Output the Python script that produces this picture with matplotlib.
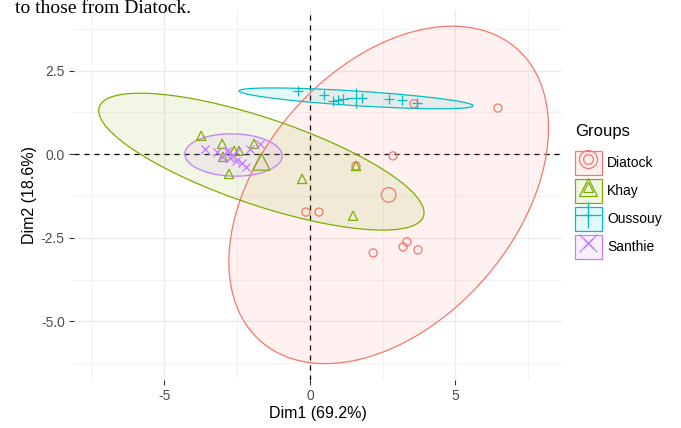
import numpy as np
import matplotlib
matplotlib.use("Agg")
import matplotlib.pyplot as plt
from matplotlib.patches import Polygon, Patch
from matplotlib.lines import Line2D
from matplotlib.legend_handler import HandlerTuple

plt.rcParams['font.family'] = ['Liberation Sans', 'DejaVu Sans']

# Individual coordinates on the first two principal components
groups = ["Diatock", "Khay", "Oussouy", "Santhie"]
colors = ["#F8766D", "#7CAE00", "#00BFC4", "#C77CFF"]
markers = ["o", "^", "+", "x"]

diatock_x = [6.46, 3.57, 2.85, 1.58, -0.14, 0.31, 2.17, 3.20, 3.33, 3.71]
diatock_y = [1.38, 1.51, -0.05, -0.35, -1.73, -1.73, -2.95, -2.77, -2.62, -2.86]

khay_x = [-3.74, -3.02, -2.61, -2.44, -1.92, -2.78, -0.27, 1.58, 1.48, -2.99]
khay_y = [0.55, 0.31, 0.10, 0.10, 0.31, -0.59, -0.74, -0.35, -1.84, -0.08]

oussouy_x = [-0.41, 0.48, 0.79, 0.96, 1.13, 1.79, 2.71, 3.15, 3.66]
oussouy_y = [1.89, 1.77, 1.59, 1.62, 1.65, 1.68, 1.65, 1.63, 1.54]

santhie_x = [-3.62, -3.20, -3.02, -2.85, -2.75, -2.54, -2.34, -2.20, -2.06, -1.72]
santhie_y = [0.15, 0.07, -0.08, 0.10, -0.11, -0.20, -0.26, -0.38, 0.16, 0.31]

xs = [diatock_x, khay_x, oussouy_x, santhie_x]
ys = [diatock_y, khay_y, oussouy_y, santhie_y]

x_ticks = [-5, 0, 5]
y_ticks = [2.5, 0.0, -2.5, -5.0]
x_label = "Dim1 (69.2%)"
y_label = "Dim2 (18.6%)"
legend_title = "Groups"


def norm_ellipse(x, y, level=0.95, segments=101):
    """Normal-theory data ellipse (as in ggplot2 stat_ellipse, type='norm')."""
    pts = np.column_stack([x, y])
    n = len(pts)
    center = pts.mean(axis=0)
    cov = np.cov(pts, rowvar=False)
    d = n - 1
    # quantile of F(2, d), closed form
    fq = d / 2.0 * ((1 - level) ** (-2.0 / d) - 1)
    radius = np.sqrt(2 * fq)
    chol = np.linalg.cholesky(cov).T
    t = np.linspace(0, 2 * np.pi, segments)
    circle = np.column_stack([np.cos(t), np.sin(t)])
    return center + radius * circle @ chol


W, H = 681, 428
fig = plt.figure(figsize=(W / 100, H / 100), dpi=100)
ax = fig.add_axes([74 / W, (H - 380) / H, (562 - 74) / W, (380 - 10) / H])

ax.set_xlim(-8.11, 8.66)
ax.set_ylim(-6.75, 4.31)

# grid (major + minor) in light grey, no panel border
ax.set_xticks(x_ticks)
ax.set_yticks(y_ticks)
ax.set_xticks([-7.5, -2.5, 2.5, 7.5], minor=True)
ax.set_yticks([3.75, 1.25, -1.25, -3.75, -6.25], minor=True)
ax.grid(True, which='major', color='#EBEBEB', linewidth=1.0)
ax.grid(True, which='minor', color='#F2F2F2', linewidth=0.7)
ax.set_axisbelow(True)
for s in ax.spines.values():
    s.set_visible(False)
ax.tick_params(axis='both', which='major', length=3.6, width=0.8, color='#333333',
               labelcolor='#4D4D4D', labelsize=10, pad=3)
ax.tick_params(axis='both', which='minor', length=0)
ax.set_xticklabels([f"{v:g}" for v in x_ticks])
ax.set_yticklabels([f"{v:.1f}" for v in y_ticks])
ax.set_xlabel(x_label, fontsize=11.5, color='black', labelpad=2)
ax.set_ylabel(y_label, fontsize=11.5, color='black', labelpad=3)

ax.axhline(0, color='black', linestyle=(0, (4, 4)), linewidth=0.9, zorder=2)
ax.axvline(0, color='black', linestyle=(0, (4, 4)), linewidth=0.9, zorder=2)

for gx, gy, col, mk in zip(xs, ys, colors, markers):
    ell = norm_ellipse(gx, gy)
    ax.add_patch(Polygon(ell, closed=True, facecolor=col, alpha=0.1,
                         edgecolor='none', zorder=3))
    ax.add_patch(Polygon(ell, closed=True, facecolor='none', edgecolor=col,
                         linewidth=0.9, zorder=4))
    if mk in ('+', 'x'):
        ax.scatter(gx, gy, marker=mk, s=55 if mk == '+' else 34, color=col,
                   linewidths=0.9, zorder=5)
        ax.scatter([np.mean(gx)], [np.mean(gy)], marker=mk, s=200 if mk == '+' else 120,
                   color=col, linewidths=0.9, zorder=5)
    else:
        ax.scatter(gx, gy, marker=mk, s=34 if mk == 'o' else 44, facecolors='none',
                   edgecolors=col, linewidths=0.9, zorder=5)
        ax.scatter([np.mean(gx)], [np.mean(gy)], marker=mk, s=110 if mk == 'o' else 150,
                   facecolors='none', edgecolors=col, linewidths=0.9, zorder=5)

# legend keys: tinted box with small and large symbol overlaid
handles = []
for col, mk in zip(colors, markers):
    box = Patch(facecolor=matplotlib.colors.to_rgba(col, 0.1), edgecolor=col, linewidth=0.9)
    small = Line2D([], [], linestyle='none', marker=mk, markersize=7 if mk != '+' else 9,
                   markerfacecolor='none', markeredgecolor=col, markeredgewidth=0.9)
    big = Line2D([], [], linestyle='none', marker=mk, markersize=13 if mk != '+' else 19,
                 markerfacecolor='none', markeredgecolor=col, markeredgewidth=0.9)
    handles.append((box, small, big))

fig.text(575 / W, 1 - 132 / H, legend_title, fontsize=12, va='center', ha='left')
leg = fig.legend(handles, groups, loc='upper left', bbox_to_anchor=(565 / W, 1 - 141 / H),
                 frameon=False, fontsize=10,
                 handler_map={tuple: HandlerTuple(ndivide=1, pad=0)},
                 handlelength=1.95, handleheight=2.35, handletextpad=0.4,
                 labelspacing=0.24, borderpad=0.2)

# running text of the page above the figure
fig.text(15 / W, 1 - 13 / H, "to those from Diatock.", fontsize=14,
         family='Liberation Serif', va='baseline', ha='left')

fig.savefig("out.png", dpi=100)
